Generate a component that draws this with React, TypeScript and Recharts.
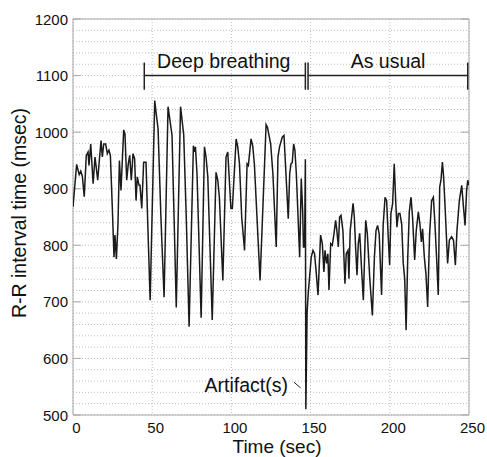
import React from 'react';
import {
  LineChart,
  Line,
  XAxis,
  YAxis,
  CartesianGrid,
  ReferenceLine,
  ReferenceArea,
  ReferenceDot,
} from 'recharts';

// ---- data ----
const timeSec = [
  0, 2.3, 3.9, 4.9, 5.9, 7.1, 8.4, 9.5, 10.1, 11.2, 12.7, 13.9, 15.6, 16.8, 17.7, 18.5, 19.4, 20.6,
  21.7, 22.7, 23.6, 24.8, 25.9, 26.5, 27.4, 28.4, 29.3, 30.3, 32.0, 32.8, 33.9, 34.9, 35.8, 36.8,
  37.9, 38.9, 39.8, 40.6, 41.7, 42.3, 43.4, 44.6, 46.1, 47.2, 48.7, 51.6, 52.3, 53.7, 55.5, 57.5,
  60.0, 62.5, 63.8, 65.2, 67.9, 69.9, 71.5, 73.3, 76.0, 76.6, 77.3, 78.3, 80.9, 83.0, 84.0, 85.1,
  87.9, 90.3, 91.4, 92.4, 94.6, 96.6, 97.7, 99.7, 100.6, 103.0, 104.0, 105.1, 106.5, 108.3, 109.9,
  110.7, 112.4, 113.5, 114.5, 118.1, 121.9, 122.8, 124.8, 126.2, 128.3, 129.4, 130.4, 132.1, 133.2,
  135.9, 136.8, 137.6, 138.4, 139.3, 140.1, 141.0, 143.1, 144.1, 145.0, 145.5, 146.2, 146.7, 147.0,
  147.8, 148.5, 149.4, 150.4, 151.5, 152.5, 153.6, 154.7, 155.7, 156.3, 157.4, 158.4, 159.1, 160.1,
  160.9, 161.6, 162.7, 163.7, 164.8, 165.8, 166.6, 167.5, 168.3, 169.2, 170.4, 171.7, 172.5, 173.6,
  174.2, 175.0, 175.9, 176.8, 177.6, 178.4, 179.3, 180.1, 181.0, 182.1, 183.3, 184.2, 184.8, 185.8,
  187.3, 189.0, 190.3, 191.3, 192.3, 193.3, 194.8, 195.8, 197.0, 198.0, 199.0, 199.9, 200.7, 201.8,
  202.8, 203.7, 204.5, 205.4, 206.4, 207.5, 208.5, 209.4, 210.3, 211.3, 212.3, 213.4, 214.4, 215.7,
  216.7, 218.0, 219.0, 219.9, 220.7, 221.8, 222.8, 223.9, 225.1, 226.4, 227.5, 228.5, 229.6, 230.6,
  231.5, 232.3, 233.2, 234.0, 235.0, 236.5, 237.6, 239.0, 240.2, 241.4, 242.4, 243.9, 245.4, 246.5,
  247.5, 248.5, 249.2, 250.0,
];

const rrMsec = [
  868, 943, 925, 931, 922, 886, 959, 965, 941, 979, 909, 956, 915, 956, 985, 956, 979, 979,
  962, 968, 959, 868, 779, 818, 776, 838, 950, 897, 1004, 997, 915, 944, 959, 915,
  962, 953, 879, 921, 906, 906, 865, 947, 947, 838, 703, 1056, 1038, 1006, 850, 708,
  1045, 995, 850, 690, 1045, 995, 850, 656, 976, 965, 974, 926, 672, 974, 956, 921,
  668, 929, 915, 885, 738, 956, 965, 865, 865, 988, 974, 944, 850, 791, 944,
  941, 988, 975, 944, 738, 1013, 1008, 979, 926, 797, 956, 974, 991, 994,
  847, 926, 944, 946, 979, 968, 926, 779, 918, 860, 797, 797, 952, 510,
  682, 715, 745, 779, 791, 785, 750, 712, 779, 818, 803, 753, 791, 768,
  785, 721, 803, 800, 821, 844, 826, 797, 850, 853, 826, 732, 785, 791,
  741, 826, 850, 874, 850, 797, 747, 803, 821, 762, 703, 791, 844, 821,
  744, 676, 780, 826, 835, 820, 712, 835, 885, 879, 815, 765, 856, 874,
  944, 880, 832, 856, 856, 838, 768, 741, 650, 775, 859, 885, 848, 774,
  826, 859, 838, 806, 829, 779, 750, 691, 818, 879, 885, 838, 774, 712,
  903, 915, 947, 920, 862, 768, 809, 815, 809, 765, 826, 879, 906, 868,
  835, 897, 915, 906,
];

const xTicks = [0, 50, 100, 150, 200, 250];
const yGridTicks = [
  500, 520, 540, 560, 580, 600, 620, 640, 660, 680, 700, 720, 740, 760, 780, 800, 820, 840, 860,
  880, 900, 920, 940, 960, 980, 1000, 1020, 1040, 1060, 1080, 1100, 1120, 1140, 1160, 1180, 1200,
];
const yLabelTicks = [500, 600, 700, 800, 900, 1000, 1100, 1200];

const phaseNames = ['Deep breathing', 'As usual'];
const phaseStart = [45, 148.4];
const phaseEnd = [146.7, 249.2];
const phaseLabelX = [95.2, 198.9];

const data = timeSec.map((t, i) => ({ t, rr: rrMsec[i] }));

const FONT = '"Liberation Sans", Arial, Helvetica, sans-serif';
const INK = '#222';

const XTick = (props: any) => {
  const { x, y, payload } = props;
  return (
    <text x={x + 3.5} y={y + 18} textAnchor="middle" fontSize={15} fontFamily={FONT} fill="#111">
      {payload.value}
    </text>
  );
};

const YTick = (props: any) => {
  const { x, y, payload } = props;
  if (payload.value % 100 !== 0) return <g />;
  return (
    <text x={x} y={y + 5.5} textAnchor="end" fontSize={15} fontFamily={FONT} fill="#111">
      {payload.value}
    </text>
  );
};

const textShape = (label: string) => (p: any) => (
  <text x={p.cx} y={p.cy} textAnchor="middle" fontSize={19.5} fontFamily={FONT} fill="#111">
    {label}
  </text>
);

export default function App() {
  return (
    <div style={{ position: 'absolute', left: 0, top: 0, background: '#fff' }}>
      <LineChart
        width={487}
        height={457}
        data={data}
        margin={{ top: 19, right: 18, bottom: 0, left: 0 }}
      >
        <CartesianGrid stroke="#bdbdbd" strokeDasharray="1 2" strokeWidth={1} />
        <XAxis
          dataKey="t"
          type="number"
          domain={[0, 250]}
          ticks={xTicks}
          interval={0}
          height={42}
          tickSize={0}
          tickMargin={0}
          tickLine={false}
          axisLine={false}
          tick={<XTick />}
          allowDataOverflow
          label={{
            content: (p: any) => {
              const vb = p.viewBox;
              return (
                <text
                  x={vb.x + vb.width / 2 + 6}
                  y={vb.y + 38}
                  textAnchor="middle"
                  fontSize={19}
                  fontFamily={FONT}
                  fill="#111"
                >
                  Time (sec)
                </text>
              );
            },
          }}
        />
        <YAxis
          type="number"
          domain={[500, 1200]}
          ticks={yGridTicks}
          interval={0}
          width={73}
          tickSize={0}
          tickMargin={5}
          tickLine={false}
          axisLine={false}
          tick={<YTick />}
          allowDataOverflow
          label={{
            content: (p: any) => {
              const vb = p.viewBox;
              const cx = vb.x + 26;
              const cy = vb.y + vb.height / 2 - 4;
              return (
                <text
                  x={cx}
                  y={cy}
                  transform={`rotate(-90, ${cx}, ${cy})`}
                  textAnchor="middle"
                  fontSize={19.5}
                  fontFamily={FONT}
                  fill="#111"
                >
                  R-R interval time (msec)
                </text>
              );
            },
          }}
        />
        <ReferenceArea
          x1={0}
          x2={250}
          y1={500}
          y2={1200}
          fill="none"
          stroke="#a8a8a8"
          strokeWidth={1}
          ifOverflow="visible"
        />
        {yLabelTicks.map((v) => (
          <ReferenceLine
            key={`tl${v}`}
            segment={[{ x: 0, y: v }, { x: 5, y: v }]}
            stroke="#a8a8a8"
            ifOverflow="visible"
          />
        ))}
        {yLabelTicks.map((v) => (
          <ReferenceLine
            key={`tr${v}`}
            segment={[{ x: 245, y: v }, { x: 250, y: v }]}
            stroke="#a8a8a8"
            ifOverflow="visible"
          />
        ))}
        <Line
          type="linear"
          dataKey="rr"
          stroke="#1a1a1a"
          strokeWidth={1.5}
          dot={false}
          isAnimationActive={false}
        />
        {phaseNames.map((name, i) => (
          <ReferenceLine
            key={`h${i}`}
            segment={[{ x: phaseStart[i], y: 1100 }, { x: phaseEnd[i], y: 1100 }]}
            stroke={INK}
            strokeWidth={1.5}
            ifOverflow="visible"
          />
        ))}
        {phaseNames.map((name, i) => (
          <ReferenceLine
            key={`s${i}`}
            segment={[{ x: phaseStart[i], y: 1075 }, { x: phaseStart[i], y: 1123 }]}
            stroke={INK}
            strokeWidth={1.5}
            ifOverflow="visible"
          />
        ))}
        {phaseNames.map((name, i) => (
          <ReferenceLine
            key={`e${i}`}
            segment={[{ x: phaseEnd[i], y: 1075 }, { x: phaseEnd[i], y: 1123 }]}
            stroke={INK}
            strokeWidth={1.5}
            ifOverflow="visible"
          />
        ))}
        {phaseNames.map((name, i) => (
          <ReferenceDot
            key={`l${i}`}
            x={phaseLabelX[i]}
            y={1114}
            r={0}
            ifOverflow="visible"
            shape={textShape(name)}
          />
        ))}
        <ReferenceDot x={109.4} y={541} r={0} ifOverflow="visible" shape={textShape('Artifact(s)')} />
        <ReferenceLine
          segment={[{ x: 139.5, y: 558 }, { x: 143.7, y: 548 }]}
          stroke={INK}
          strokeWidth={1}
          ifOverflow="visible"
        />
      </LineChart>
    </div>
  );
}
